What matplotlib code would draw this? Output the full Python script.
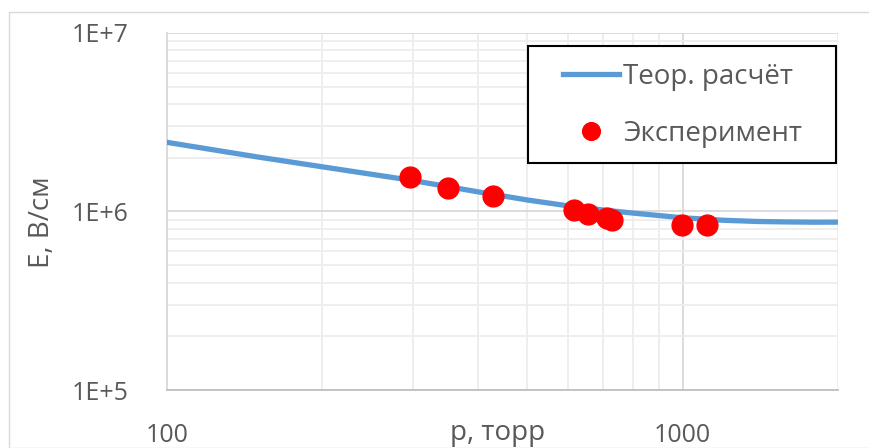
import matplotlib
matplotlib.use("Agg")
import matplotlib.pyplot as plt
from matplotlib.patches import Rectangle
from matplotlib.ticker import LogLocator, NullFormatter, FixedLocator

plt.rcParams['font.family'] = ['Open Sans', 'DejaVu Sans']

# theory curve
p_theory = [100, 150, 200, 300, 400, 500, 600, 700, 800, 1000, 1200, 1400, 1600, 1800, 2000]
E_theory = [2.44e6, 2.02e6, 1.78e6, 1.49e6, 1.29e6, 1.16e6, 1.075e6, 1.02e6, 0.98e6,
            0.922e6, 0.893e6, 0.879e6, 0.874e6, 0.871e6, 0.872e6]

# experiment
p_exp = [296, 351, 428, 615, 656, 714, 730, 997, 1114]
E_exp = [1.563e6, 1.356e6, 1.218e6, 1.017e6, 0.971e6, 0.922e6, 0.894e6, 0.839e6, 0.835e6]

txt = '#595959'

fig = plt.figure(figsize=(8.7, 4.48), dpi=100)
ax = fig.add_axes([167/870, 1-390/448, (838-167)/870, (390-33)/448])

# outer chart border
fig.patches.append(Rectangle((9/870, 0), 1, 1-12/448, transform=fig.transFigure,
                             fill=False, edgecolor='#D9D9D9', lw=1))

ax.plot(p_theory, E_theory, color='#5B9BD5', lw=3.8, label='Теор. расчёт', zorder=3)
ax.plot(p_exp, E_exp, 'o', color='red', ms=15, label='Эксперимент', zorder=4)

ax.set_xscale('log')
ax.set_yscale('log')
ax.set_xlim(100, 2000)
ax.set_ylim(1e5, 1e7)

ax.xaxis.set_major_locator(FixedLocator([100, 1000]))
ax.xaxis.set_minor_locator(LogLocator(base=10, subs=range(2, 10), numticks=20))
ax.yaxis.set_major_locator(FixedLocator([1e5, 1e6, 1e7]))
ax.yaxis.set_minor_locator(LogLocator(base=10, subs=range(2, 10), numticks=20))
ax.xaxis.set_minor_formatter(NullFormatter())
ax.yaxis.set_minor_formatter(NullFormatter())
ax.set_xticklabels(['100', '1000'])
ax.set_yticklabels(['1E+5', '1E+6', '1E+7'])

ax.grid(which='minor', color='#EDEDED', lw=1.3)
ax.grid(which='major', color='#D9D9D9', lw=1.3)
ax.set_axisbelow(True)
ax.tick_params(which='both', length=0, colors=txt, labelsize=18)
ax.tick_params(axis='x', pad=24)
ax.tick_params(axis='y', pad=28)

for s in ['top', 'right']:
    ax.spines[s].set_visible(False)
ax.spines['left'].set_color('#D9D9D9')
ax.spines['bottom'].set_color('#BFBFBF')
ax.spines['left'].set_linewidth(1.3)
ax.spines['bottom'].set_linewidth(1.3)

fig.text(498/870, 1-433/448, 'p, торр', ha='center', va='center', color=txt, fontsize=20)
fig.text(42/870, 1-222/448, 'E, В/см', ha='center', va='center', rotation=90,
         color=txt, fontsize=20)

# legend frame drawn separately so the entries can sit further right
frame = Rectangle((528/870, 1-163/448), (836-528)/870, (163-46)/448,
                  transform=fig.transFigure, facecolor='white',
                  edgecolor='black', lw=1.5, zorder=5, clip_on=False)
ax.add_patch(frame)
leg = ax.legend(loc='upper left', bbox_to_anchor=(563/870, 1-63/448),
                bbox_transform=fig.transFigure, fontsize=20, frameon=False,
                borderpad=0, labelspacing=1.05, handlelength=2.0,
                handletextpad=0.15, markerscale=0.85, borderaxespad=0)
leg.set_zorder(6)
for t in leg.get_texts():
    t.set_color(txt)

fig.savefig('out.png', dpi=100)
